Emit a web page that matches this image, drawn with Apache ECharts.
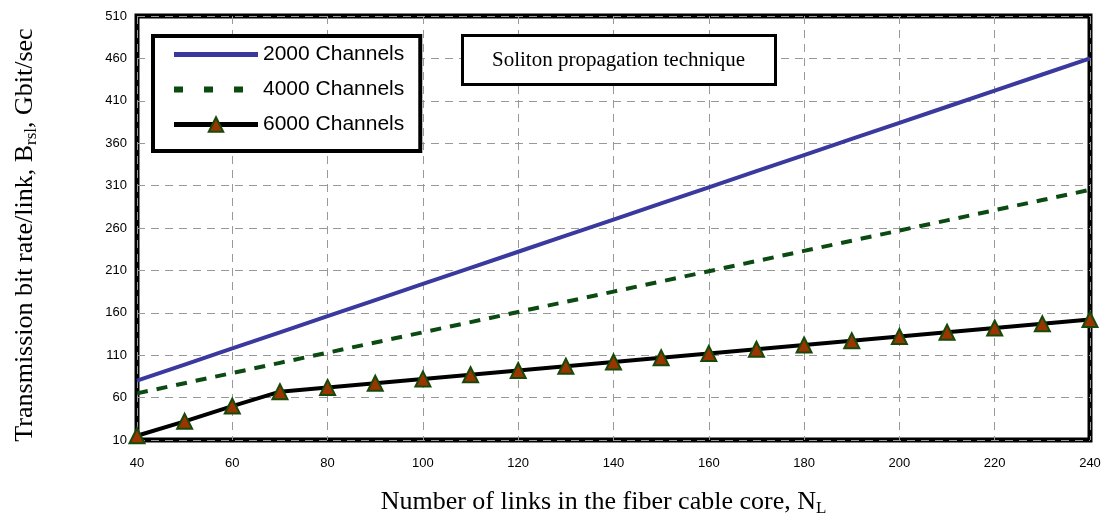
<!DOCTYPE html>
<html>
<head>
<meta charset="utf-8">
<script src="https://cdn.jsdelivr.net/npm/echarts@6/dist/echarts.min.js"></script>
<style>html,body{margin:0;padding:0;background:#fff}#c{width:1104px;height:519px}</style>
</head>
<body>
<div id="c"></div>
<script>
const links = [40,50,60,70,80,90,100,110,120,130,140,150,160,170,180,190,200,210,220,230,240];
const ch2000 = [80,99,118,137,156,175,194,213,232,251,270,289,308,327,346,365,384,403,422,441,460];
const ch4000 = [65,77,89,101,113,125,137,149,161,173,185,197,209,221,233,245,257,269,281,293,305];
const ch6000 = [15,32,50,67,72,77,82,87,92,97,102,107,112,117,122,127,132,137,142,147,152];
const seriesNames = ['2000 Channels','4000 Channels','6000 Channels'];
const titleText = 'Soliton propagation technique';

const pair = (ys) => links.map((x,i) => [x, ys[i]]);
const hiddenSym = {color: 'rgba(0,0,0,0)', borderWidth: 0};
const chart = echarts.init(document.getElementById('c'));
chart.setOption({
  animation: false,
  backgroundColor: '#fff',
  title: {
    text: titleText, left: 462, top: 35,
    padding: [15, 31, 14, 30],
    borderColor: '#000', borderWidth: 3, backgroundColor: '#fff',
    textStyle: {fontFamily: 'Liberation Serif', fontSize: 21, fontWeight: 'normal', color: '#000'}
  },
  legend: {
    left: 153, top: 36, orient: 'vertical',
    padding: [8, 16, 16, 18], itemGap: 14,
    itemWidth: 84, itemHeight: 18,
    borderColor: '#000', borderWidth: 4, backgroundColor: '#fff',
    textStyle: {fontFamily: 'Liberation Sans', fontSize: 21, color: '#000'},
    data: [
      {name: seriesNames[0], itemStyle: hiddenSym, lineStyle: {width: 5}},
      {name: seriesNames[1], itemStyle: hiddenSym, lineStyle: {width: 6, type: [9, 21]}},
      {name: seriesNames[2], lineStyle: {width: 5}}
    ]
  },
  grid: {left: 137, right: 14, top: 16, bottom: 79, show: true, borderColor: '#000', borderWidth: 5,
         containLabel: false, outerBoundsMode: 'none'},
  xAxis: {
    type: 'value', min: 40, max: 240, interval: 20,
    axisLine: {show: false}, axisTick: {show: false},
    axisLabel: {fontFamily: 'Liberation Sans', fontSize: 13, color: '#000', margin: 17},
    splitLine: {lineStyle: {color: '#999', type: [8, 6], width: 1}},
    name: 'Number of links in the fiber cable core, N{sub|L}',
    nameLocation: 'middle', nameGap: 48,
    nameTextStyle: {fontFamily: 'Liberation Serif', fontSize: 26, color: '#000', padding: [0, 20, 0, 0],
      rich: {sub: {fontFamily: 'Liberation Serif', fontSize: 17, color: '#000', padding: [12,0,0,0]}}}
  },
  yAxis: {
    type: 'value', min: 10, max: 510, interval: 50,
    axisLine: {show: false}, axisTick: {show: false},
    axisLabel: {fontFamily: 'Liberation Sans', fontSize: 13, color: '#000', margin: 10},
    splitLine: {lineStyle: {color: '#999', type: [8, 6], width: 1}},
    name: 'Transmission bit rate/link, B{sub|rsl}, Gbit/sec',
    nameLocation: 'middle', nameGap: 97,
    nameTextStyle: {fontFamily: 'Liberation Serif', fontSize: 26, color: '#000', padding: [0, 14, 0, 0],
      rich: {sub: {fontFamily: 'Liberation Serif', fontSize: 17, color: '#000', padding: [12,0,0,0]}}}
  },
  series: [
    {name: seriesNames[0], type: 'line', data: pair(ch2000), showSymbol: false, symbol: 'none',
     lineStyle: {color: '#3a3a9e', width: 4}, itemStyle: {color: '#3a3a9e'}},
    {name: seriesNames[1], type: 'line', data: pair(ch4000), showSymbol: false, symbol: 'none',
     lineStyle: {color: '#0b4a10', width: 4, type: [11, 9]}, itemStyle: {color: '#0b4a10'}},
    {name: seriesNames[2], type: 'line', data: pair(ch6000), symbol: 'triangle', symbolSize: 15,
     lineStyle: {color: '#000', width: 4},
     itemStyle: {color: '#9a3500', borderColor: '#174a0a', borderWidth: 2}}
  ]
});
</script>
</body>
</html>
